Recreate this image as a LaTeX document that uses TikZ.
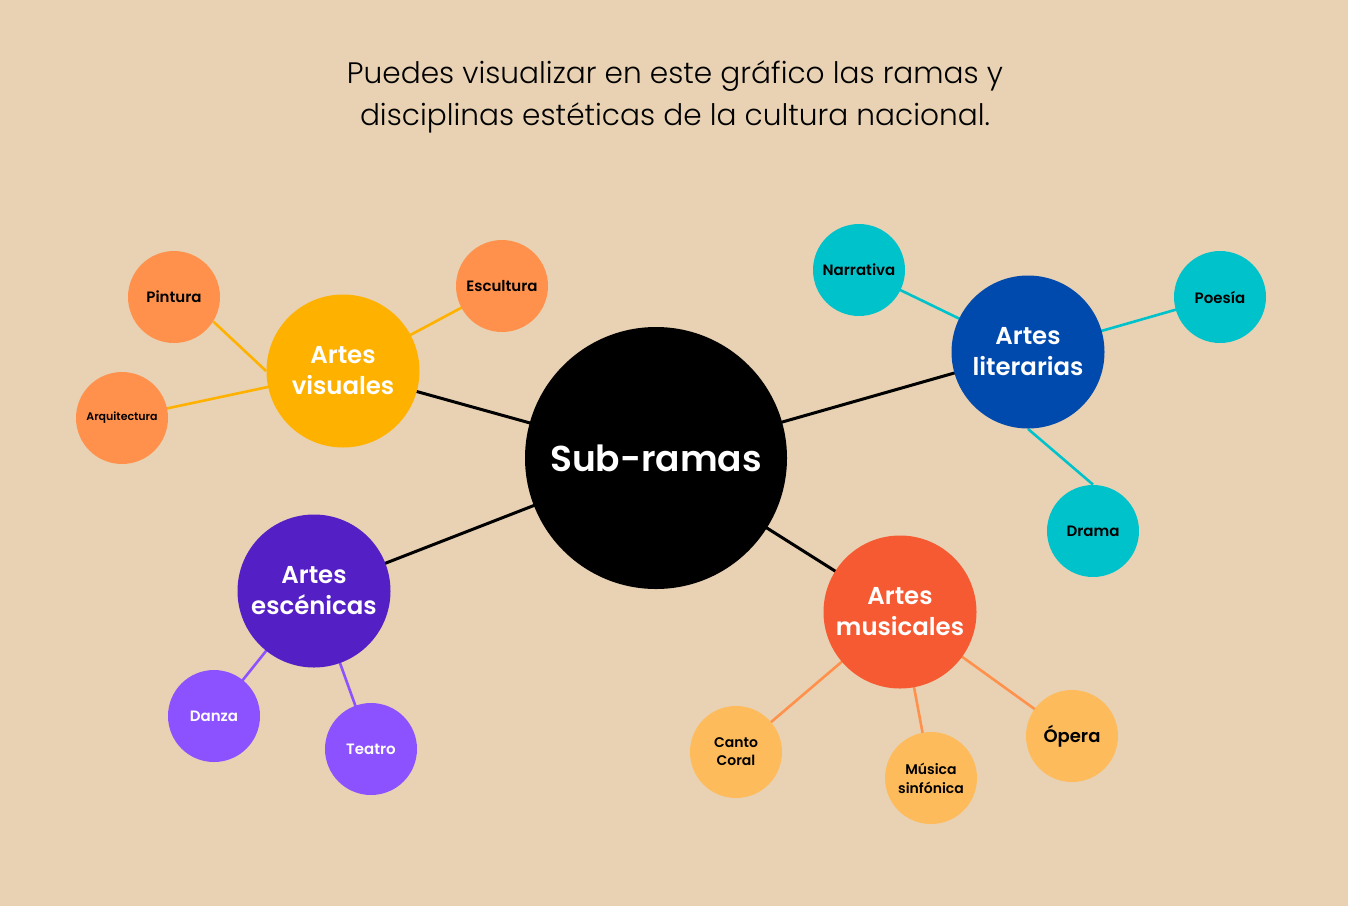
\documentclass[tikz,border=0pt]{standalone}
\usepackage{fontspec}
\setmainfont{Poppins}
\newfontfamily\titlefont{Poppins Light}
\newfontfamily\nodefont{Poppins SemiBold}
\pgfdeclarelayer{bgl}
\pgfdeclarelayer{edges}
\pgfsetlayers{bgl,edges,main}
\definecolor{bgc}{HTML}{E9D2B3}
\definecolor{orsmall}{HTML}{FF914D}
\definecolor{yel}{HTML}{FFB100}
\definecolor{teal}{HTML}{00C2CB}
\definecolor{navy}{HTML}{004AAD}
\definecolor{purp}{HTML}{541FC4}
\definecolor{lpurp}{HTML}{8C52FF}
\definecolor{redor}{HTML}{F55A33}
\definecolor{lor}{HTML}{FDBB5B}
\tikzset{
  hub/.style={circle, fill=black, text=white, minimum size=131pt, inner sep=0pt, align=center, font=\nodefont\fontsize{18}{21}\selectfont},
  branch/.style={circle, text=white, minimum size=76.5pt, inner sep=0pt, align=center, font=\nodefont\fontsize{12.2}{15.5}\selectfont},
  leaf/.style={circle, text=black, minimum size=46pt, inner sep=0pt, align=center, font=\nodefont\fontsize{7.5}{9}\selectfont},
  mainline/.style={line width=1.5pt, draw=black},
  subline/.style={line width=1.3pt}
}
\begin{document}
\begin{tikzpicture}[x=0.5pt,y=-0.5pt]
\begin{pgfonlayer}{bgl}
\fill[bgc] (0,0) rectangle (1348,906);
\end{pgfonlayer}
\useasboundingbox (0,0) rectangle (1348,906);

\node[font=\titlefont\fontsize{14.8}{21}\selectfont, align=center] (title) at (675,97) {Puedes visualizar en este gráfico las ramas y\\disciplinas estéticas de la cultura nacional.};

\node[hub] (sub) at (656,458) {Sub-ramas};

\node[branch, fill=yel] (vis) at (343,371) {Artes\\visuales};
\node[leaf, fill=orsmall] (pin) at (174,297) {Pintura};
\node[leaf, fill=orsmall] (esc) at (502,286) {Escultura};
\node[leaf, fill=orsmall, font=\nodefont\fontsize{5.5}{7}\selectfont] (arq) at (122,418) {Arquitectura};

\node[branch, fill=navy] (lit) at (1028,352) {Artes\\literarias};
\node[leaf, fill=teal] (nar) at (859,270) {Narrativa};
\node[leaf, fill=teal] (poe) at (1220,297) {Poesía};
\node[leaf, fill=teal] (dra) at (1093,531) {Drama};

\node[branch, fill=purp] (scen) at (314,591) {Artes\\escénicas};
\node[leaf, fill=lpurp, text=white] (dan) at (214,716) {Danza};
\node[leaf, fill=lpurp, text=white] (tea) at (371,749) {Teatro};

\node[branch, fill=redor] (mus) at (900,612) {Artes\\musicales};
\node[leaf, fill=lor, font=\nodefont\fontsize{7}{9}\selectfont] (can) at (736,752) {Canto\\Coral};
\node[leaf, fill=lor, font=\nodefont\fontsize{7}{9.5}\selectfont] (sin) at (931,778) {Música\\sinfónica};
\node[leaf, fill=lor, font=\nodefont\fontsize{9}{11}\selectfont] (ope) at (1072,736) {Ópera};

\begin{pgfonlayer}{edges}
\draw[mainline] (sub.center) -- (vis.center);
\draw[mainline] (sub.center) -- (lit.center);
\draw[mainline] (sub.center) -- (scen.center);
\draw[mainline] (sub.center) -- (mus.center);
\draw[subline, draw=yel] (pin.-32) -- (vis.west);
\draw[subline, draw=yel] (vis.center) -- (esc.center);
\draw[subline, draw=yel] (vis.center) -- (arq.center);
\draw[subline, draw=teal] (lit.center) -- (nar.center);
\draw[subline, draw=teal] (lit.center) -- (poe.center);
\draw[subline, draw=teal] (lit.south) -- (dra.north);
\draw[subline, draw=lpurp] (scen.center) -- (dan.center);
\draw[subline, draw=lpurp] (scen.center) -- (tea.center);
\draw[subline, draw=orsmall] (mus.center) -- (can.center);
\draw[subline, draw=orsmall] (mus.center) -- (sin.center);
\draw[subline, draw=orsmall] (mus.center) -- (ope.center);
\end{pgfonlayer}
\end{tikzpicture}
\end{document}
